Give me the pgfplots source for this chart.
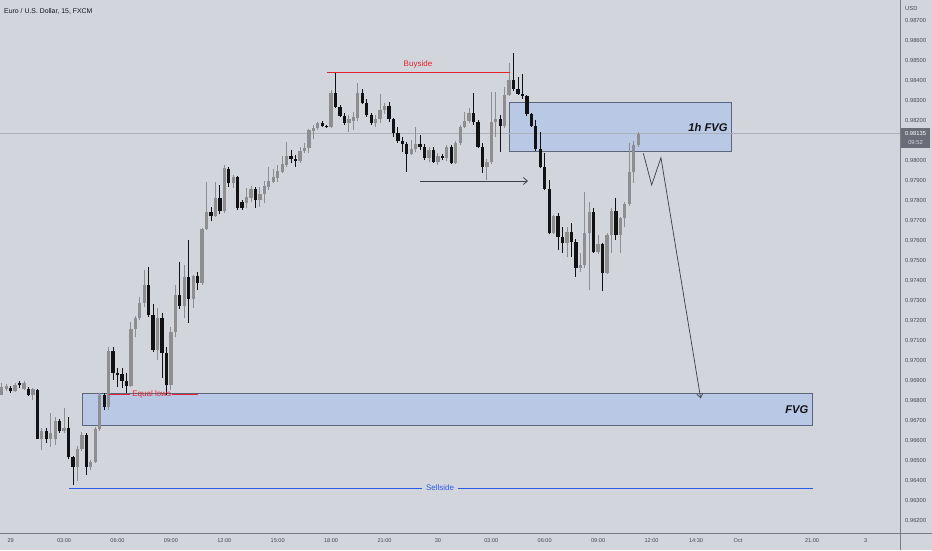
\documentclass[border=0pt]{standalone}
\usepackage{fontspec}
\setmainfont{Liberation Sans}
\usepackage{pgfplots}
\pgfplotsset{compat=1.18}
\usepackage{pgfplotstable}
\usetikzlibrary{arrows.meta}

\definecolor{bg}{RGB}{210,213,220}
\definecolor{bullc}{RGB}{142,142,145}
\definecolor{bearc}{RGB}{18,18,20}
\definecolor{boxfill}{RGB}{184,200,229}
\definecolor{boxedge}{RGB}{92,102,122}
\definecolor{tvred}{RGB}{226,36,46}
\definecolor{tvblue}{RGB}{42,92,232}
\definecolor{scalecol}{RGB}{120,123,134}
\definecolor{lblcol}{RGB}{70,73,82}
\definecolor{pline}{RGB}{172,176,186}
\definecolor{tagcol}{RGB}{106,109,120}
\definecolor{drawcol}{RGB}{60,62,68}
\definecolor{titlecol}{RGB}{19,23,34}

% bullish candles: t (hours from 29 Sep 00:00), open, high, low, close
\pgfplotstableread{
t o h l c
-0.5 0.96829 0.96889 0.96829 0.96869
-0.25 0.96859 0.96884 0.96849 0.96874
0.25 0.96849 0.96889 0.96844 0.96879
0.75 0.96859 0.96899 0.96854 0.96889
1.25 0.96829 0.96864 0.96804 0.96859
1.75 0.96609 0.96664 0.96554 0.96649
2.25 0.96609 0.96739 0.96569 0.96639
2.5 0.96609 0.96719 0.96579 0.96699
3 0.96649 0.96764 0.96639 0.96664
3.75 0.96469 0.96574 0.96399 0.96559
4 0.96559 0.96644 0.96549 0.96629
4.5 0.96469 0.96504 0.96454 0.96494
4.75 0.96494 0.96669 0.96489 0.96659
5 0.96659 0.96839 0.96649 0.96829
5.5 0.96769 0.97069 0.96754 0.97049
6.75 0.96874 0.97194 0.96869 0.97159
7 0.97159 0.97224 0.97119 0.97214
7.25 0.97214 0.97319 0.97204 0.97289
7.5 0.97289 0.97454 0.97269 0.97379
8.25 0.97054 0.97264 0.97004 0.97214
9 0.96879 0.97169 0.96854 0.97144
9.25 0.97144 0.97379 0.97119 0.97329
9.75 0.97274 0.97479 0.97214 0.97419
10.25 0.97309 0.97429 0.97264 0.97424
10.75 0.97389 0.97664 0.97379 0.97659
11 0.97659 0.97894 0.97654 0.97744
11.5 0.97724 0.97894 0.97719 0.97814
12 0.97749 0.97979 0.97739 0.97964
12.5 0.97889 0.97929 0.97864 0.97919
13.25 0.97789 0.97864 0.97764 0.97819
13.5 0.97814 0.97874 0.97794 0.97859
14 0.97804 0.97869 0.97769 0.97834
14.25 0.97834 0.97899 0.97789 0.97874
14.5 0.97869 0.97969 0.97854 0.97899
14.75 0.97894 0.97959 0.97889 0.97919
15 0.97914 0.97979 0.97894 0.97949
15.25 0.97944 0.98024 0.97939 0.97984
15.5 0.97979 0.98094 0.97969 0.98024
16.25 0.97999 0.98069 0.97989 0.98049
16.5 0.98049 0.98089 0.98039 0.98064
16.75 0.98064 0.98159 0.98039 0.98154
17 0.98149 0.98179 0.98109 0.98164
17.25 0.98164 0.98194 0.98154 0.98189
18 0.98169 0.98354 0.98164 0.98339
19 0.98189 0.98229 0.98144 0.98209
19.25 0.98199 0.98244 0.98154 0.98219
19.5 0.98214 0.98389 0.98199 0.98339
20.5 0.98189 0.98229 0.98169 0.98209
20.75 0.98209 0.98334 0.98189 0.98254
21 0.98254 0.98289 0.98234 0.98274
22.5 0.98034 0.98104 0.98029 0.98059
22.75 0.98059 0.98169 0.98044 0.98084
23.5 0.98014 0.98069 0.97994 0.98054
24 0.97994 0.98039 0.97979 0.98024
24.5 0.98014 0.98079 0.97999 0.98069
25 0.97989 0.98099 0.97984 0.98089
25.25 0.98089 0.98179 0.98079 0.98169
25.5 0.98169 0.98244 0.98164 0.98199
25.75 0.98199 0.98264 0.98189 0.98239
26.75 0.97969 0.98009 0.97904 0.97994
27 0.97994 0.98344 0.97984 0.98194
27.25 0.98194 0.98344 0.98119 0.98209
27.75 0.98174 0.98369 0.98164 0.98329
28 0.98329 0.98489 0.98324 0.98404
30.5 0.97639 0.97729 0.97634 0.97724
31.25 0.97589 0.97669 0.97519 0.97644
32 0.97464 0.97539 0.97444 0.97479
32.25 0.97479 0.97844 0.97464 0.97639
32.5 0.97639 0.97794 0.97354 0.97744
33 0.97544 0.97629 0.97534 0.97584
33.5 0.97439 0.97639 0.97434 0.97629
33.75 0.97629 0.97764 0.97539 0.97749
34.25 0.97629 0.97719 0.97539 0.97714
34.5 0.97714 0.97794 0.97669 0.97784
34.75 0.97784 0.98089 0.97774 0.97944
35 0.97944 0.98099 0.97889 0.98079
35.25 0.98079 0.98144 0.98069 0.98134
}\bull

% bearish candles
\pgfplotstableread{
t o h l c
0 0.96864 0.96874 0.96839 0.96849
0.5 0.96889 0.96899 0.96864 0.96879
1 0.96859 0.96869 0.96824 0.96829
1.5 0.96854 0.96859 0.96609 0.96609
2 0.96649 0.96664 0.96589 0.96609
2.75 0.96699 0.96709 0.96639 0.96649
3.25 0.96664 0.96719 0.96509 0.96519
3.5 0.96519 0.96524 0.96379 0.96469
4.25 0.96629 0.96639 0.96429 0.96469
5.25 0.96829 0.96839 0.96754 0.96769
5.75 0.97049 0.97069 0.96904 0.96939
6 0.96939 0.96964 0.96869 0.96929
6.25 0.96934 0.96964 0.96864 0.96899
6.5 0.96899 0.96939 0.96839 0.96874
7.75 0.97379 0.97469 0.97219 0.97229
8 0.97229 0.97284 0.97044 0.97054
8.5 0.97214 0.97239 0.96914 0.97039
8.75 0.97039 0.97069 0.96829 0.96879
9.5 0.97329 0.97494 0.97259 0.97274
10 0.97419 0.97604 0.97189 0.97309
10.5 0.97424 0.97444 0.97354 0.97389
11.25 0.97744 0.97769 0.97699 0.97724
11.75 0.97814 0.97879 0.97734 0.97749
12.25 0.97959 0.97969 0.97869 0.97889
12.75 0.97919 0.97924 0.97754 0.97764
13 0.97794 0.97804 0.97754 0.97764
13.75 0.97859 0.97869 0.97764 0.97804
15.75 0.98024 0.98054 0.97989 0.98009
16 0.98009 0.98029 0.97969 0.97999
17.5 0.98189 0.98199 0.98169 0.98174
17.75 0.98174 0.98179 0.98164 0.98169
18.25 0.98339 0.98439 0.98264 0.98269
18.5 0.98269 0.98279 0.98219 0.98224
18.75 0.98224 0.98239 0.98179 0.98189
19.75 0.98339 0.98359 0.98284 0.98289
20 0.98289 0.98309 0.98219 0.98229
20.25 0.98229 0.98239 0.98179 0.98189
21.25 0.98274 0.98294 0.98194 0.98209
21.5 0.98209 0.98214 0.98119 0.98139
21.75 0.98139 0.98169 0.98089 0.98099
22 0.98099 0.98119 0.98044 0.98084
22.25 0.98084 0.98094 0.97944 0.98034
23 0.98084 0.98129 0.98054 0.98069
23.25 0.98069 0.98084 0.98004 0.98014
23.75 0.98054 0.98069 0.97989 0.97994
24.25 0.98024 0.98034 0.98004 0.98014
24.75 0.98069 0.98079 0.97984 0.97989
26 0.98239 0.98339 0.98179 0.98194
26.25 0.98194 0.98204 0.98064 0.98069
26.5 0.98069 0.98089 0.97939 0.97969
27.5 0.98209 0.98229 0.98044 0.98174
28.25 0.98404 0.98539 0.98349 0.98359
28.5 0.98359 0.98419 0.98329 0.98334
28.75 0.98334 0.98434 0.98309 0.98324
29 0.98324 0.98329 0.98224 0.98234
29.25 0.98234 0.98239 0.98169 0.98174
29.5 0.98174 0.98204 0.98049 0.98059
29.75 0.98059 0.98144 0.97964 0.97969
30 0.97969 0.98039 0.97854 0.97859
30.25 0.97859 0.97904 0.97634 0.97639
30.75 0.97724 0.97739 0.97554 0.97619
31 0.97619 0.97669 0.97539 0.97589
31.5 0.97644 0.97689 0.97519 0.97594
31.75 0.97594 0.97609 0.97419 0.97464
32.75 0.97744 0.97764 0.97539 0.97544
33.25 0.97584 0.97589 0.97349 0.97439
34 0.97749 0.97814 0.97604 0.97629
}\bear

\pgfplotsset{
  candle/.style 2 args={only marks, mark=*, mark size=0pt,
    mark options={draw opacity=0, fill opacity=0},
    error bars/.cd, y dir=plus, y explicit, error mark=none,
    error bar style={draw=#1, line width=#2, solid, opacity=1}},
}

\begin{document}
\begin{tikzpicture}[x=1pt,y=1pt]
\fill[bg] (0,0) rectangle (932,550);
\begin{axis}[
  at={(0pt,17pt)}, anchor=south west,
  width=900pt, height=533pt, scale only axis,
  xmin=-0.601, xmax=49.96, ymin=0.96139, ymax=0.98804,
  axis line style={draw=none},
  major tick length=0pt, minor tick num=0,
  scaled x ticks=false, scaled y ticks=false,
  yticklabel pos=right,
  ytick={0.962,0.963,0.964,0.965,0.966,0.967,0.968,0.969,0.970,0.971,0.972,0.973,0.974,0.975,0.976,0.977,0.978,0.979,0.980,0.982,0.983,0.984,0.985,0.986,0.987},
  yticklabels={0.96200,0.96300,0.96400,0.96500,0.96600,0.96700,0.96800,0.96900,0.97000,0.97100,0.97200,0.97300,0.97400,0.97500,0.97600,0.97700,0.97800,0.97900,0.98000,0.98200,0.98300,0.98400,0.98500,0.98600,0.98700},
  yticklabel style={anchor=west, xshift=5pt, inner sep=0pt, font=\fontsize{5.8}{6}\selectfont, text=lblcol},
  xtick={0,3,6,9,12,15,18,21,24,27,30,33,36,38.5,40.86,45.02,48.03},
  xticklabels={29,03:00,06:00,09:00,12:00,15:00,18:00,21:00,30,03:00,06:00,09:00,12:00,14:30,Oct,21:00,3},
  xticklabel style={anchor=center, yshift=-8pt, inner sep=0pt, font=\fontsize{5.6}{6}\selectfont, text=lblcol},
]
% FVG zones
\fill[boxfill, draw=boxedge, line width=1pt] (axis cs:4.02,0.968375) rectangle (axis cs:45.06,0.96679);
\fill[boxfill, draw=boxedge, line width=1pt] (axis cs:28.01,0.982925) rectangle (axis cs:40.51,0.980455);
% last price line
\draw[pline, line width=0.8pt] (axis cs:-0.601,0.98135) -- (axis cs:49.96,0.98135);

% wicks
\addplot[candle={bullc}{0.9pt}] table[x=t, y=l, y error plus expr=\thisrow{h}-\thisrow{l}] {\bull};
\addplot[candle={bearc}{0.9pt}] table[x=t, y=l, y error plus expr=\thisrow{h}-\thisrow{l}] {\bear};
% bodies
\addplot[candle={bullc}{3.3pt}] table[x=t, y=o, y error plus expr=\thisrow{c}-\thisrow{o}] {\bull};
\addplot[candle={bearc}{3.3pt}] table[x=t, y=c, y error plus expr=\thisrow{o}-\thisrow{c}] {\bear};

% Buyside
\draw[tvred, line width=1.4pt] (axis cs:17.75,0.984405) -- (axis cs:28.05,0.984405);
\node[tvred, font=\fontsize{8}{9}\selectfont, inner sep=0pt] at (axis cs:22.88,0.98484) {Buyside};
% Equal lows
\draw[tvred, line width=1.2pt] (axis cs:5.52,0.968325) -- (axis cs:6.70,0.968325);
\draw[tvred, line width=1.2pt] (axis cs:9.04,0.968325) -- (axis cs:10.52,0.968325);
\node[text=tvred, font=\fontsize{8}{9}\selectfont, inner sep=0pt] at (axis cs:7.92,0.968325) {Equal lows};
% Sellside
\draw[tvblue, line width=1pt] (axis cs:3.28,0.96364) -- (axis cs:23.11,0.96364);
\draw[tvblue, line width=1pt] (axis cs:25.13,0.96364) -- (axis cs:45.06,0.96364);
\node[text=tvblue, font=\fontsize{8}{9}\selectfont, inner sep=0pt] at (axis cs:24.12,0.96364) {Sellside};
% zone labels
\node[font=\fontsize{11.2}{12}\selectfont\bfseries\itshape, text=bearc, inner sep=0pt] at (axis cs:39.17,0.981675) {1h FVG};
\node[font=\fontsize{11.2}{12}\selectfont\bfseries\itshape, text=bearc, inner sep=0pt] at (axis cs:44.16,0.96754) {FVG};
% arrows
\draw[drawcol, line width=0.8pt, -{Straight Barb[length=4pt,width=7pt]}] (axis cs:23.0,0.97899) -- (axis cs:29.06,0.97899);
\draw[drawcol, line width=0.7pt, -{Straight Barb[length=4pt,width=6pt]}] (axis cs:35.54,0.980375) -- (axis cs:36.01,0.97879) -- (axis cs:36.53,0.980155) -- (axis cs:38.76,0.968125);
\end{axis}
% scale borders
\draw[scalecol, line width=1pt] (900.5,0) -- (900.5,550);
\draw[scalecol, line width=1pt] (0,17) -- (932,17);
% title and currency
\node[anchor=west, inner sep=0pt, font=\fontsize{6.9}{8}\selectfont, text=titlecol] at (4,539) {Euro / U.S. Dollar, 15, FXCM};
\node[anchor=west, inner sep=0pt, font=\fontsize{5.8}{6}\selectfont, text=lblcol] at (905,541) {USD};
% last price tag
\fill[tagcol] (901,402) rectangle (930,421.5);
\node[inner sep=0pt, font=\fontsize{5.8}{6}\selectfont, text=white] at (915.5,416) {0.98135};
\node[inner sep=0pt, font=\fontsize{5.8}{6}\selectfont, text={rgb,255:red,215;green,217;blue,224}] at (915.5,407) {09:52};
\pgfresetboundingbox
\path (0,0) rectangle (932,550);
\end{tikzpicture}
\end{document}
